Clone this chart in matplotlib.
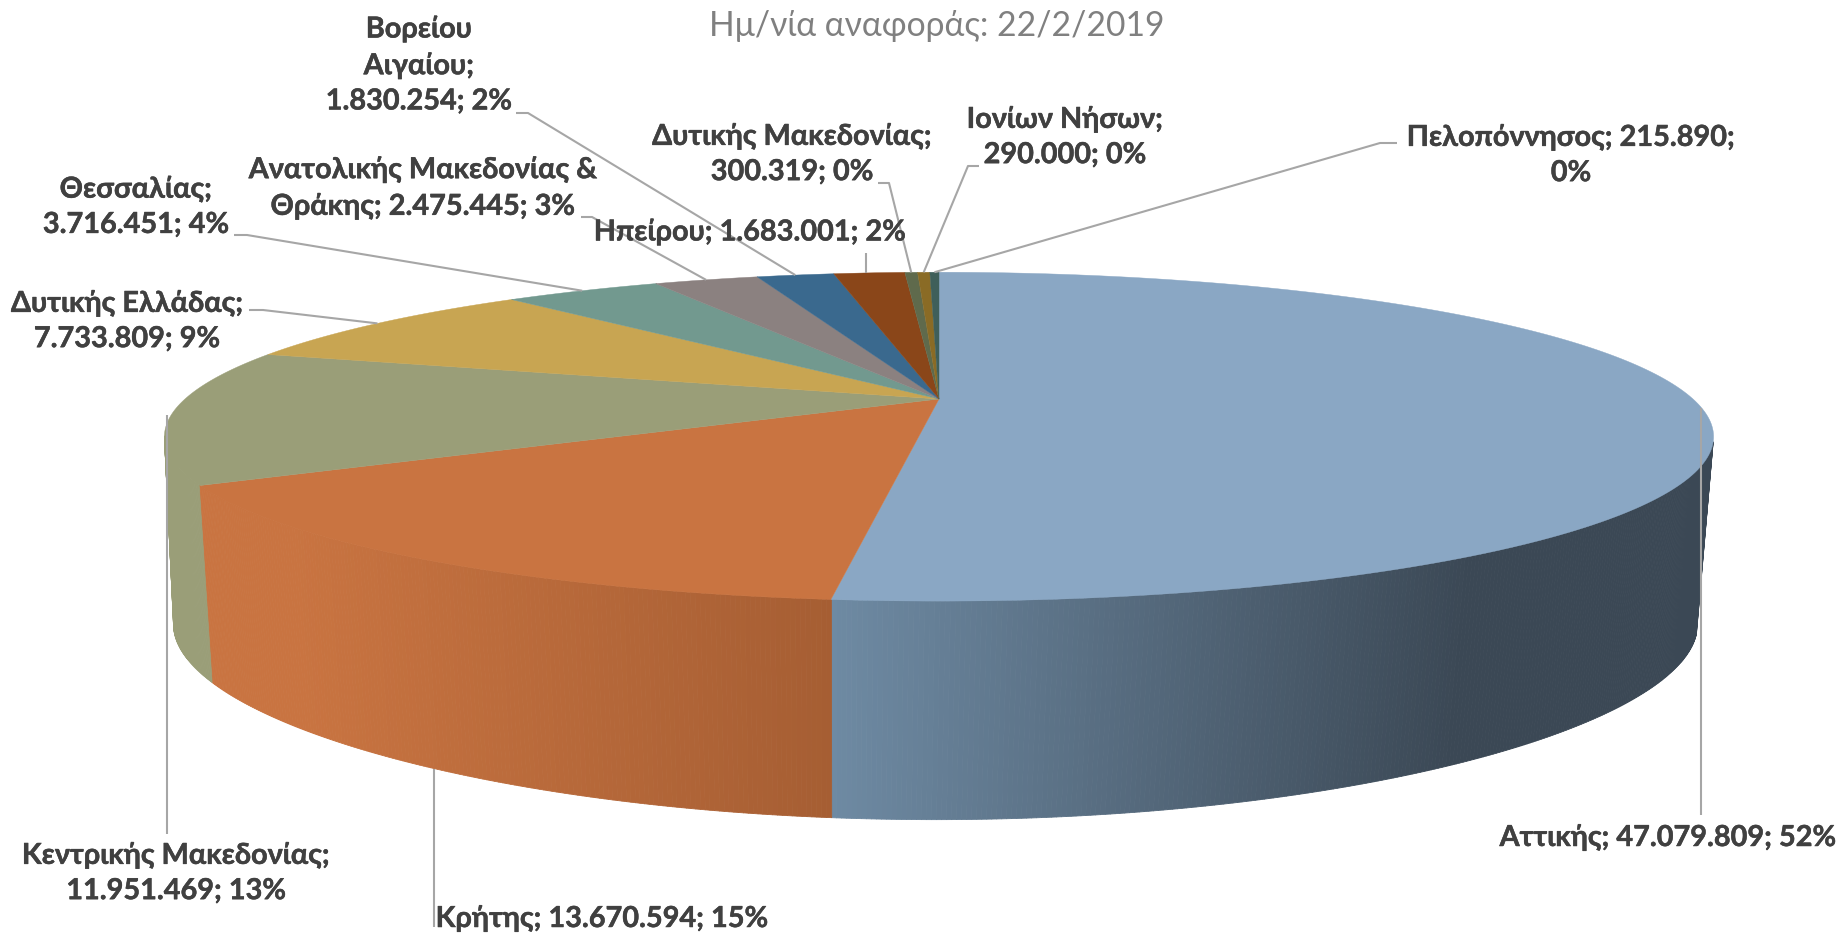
import numpy as np
import matplotlib
matplotlib.use('Agg')
import matplotlib.pyplot as plt
import matplotlib.patheffects as pe
from matplotlib.collections import PolyCollection
from matplotlib.colors import to_rgb

# data
regiones = ['Αττικής', 'Κρήτης', 'Κεντρικής Μακεδονίας', 'Δυτικής Ελλάδας', 'Θεσσαλίας',
            'Ανατολικής Μακεδονίας & Θράκης', 'Βορείου Αιγαίου', 'Ηπείρου',
            'Δυτικής Μακεδονίας', 'Ιονίων Νήσων', 'Πελοπόννησος']
valores = [47079809, 13670594, 11951469, 7733809, 3716451, 2475445, 1830254, 1683001,
           300319, 290000, 215890]
colores = ['#8aa7c4', '#c97441', '#9a9e78', '#c8a552', '#72998f', '#8b8180', '#3a698e',
           '#8a4619', '#5f6a4c', '#8a6b25', '#3f5f5a']

# label line breaks, one string per region with | where the line breaks
cortes = ['{n}; {v}; {p}', '{n}; {v}; {p}', 'Κεντρικής Μακεδονίας;|{v}; {p}', '{n};|{v}; {p}',
          '{n};|{v}; {p}', 'Ανατολικής Μακεδονίας &|Θράκης; {v}; {p}', 'Βορείου|Αιγαίου;|{v}; {p}',
          '{n}; {v}; {p}', '{n};|{v}; {p}', '{n};|{v}; {p}', '{n}; {v};|{p}']

# layout, in pixels of the output
pos_etiqueta = [(1668, 838), (602, 919), (176, 873), (127, 321), (136, 207), (423, 188),
                (419, 65), (750, 232), (792, 154), (1065, 137), (1571, 155)]
codo = [[(1701, 815)], [(434, 927)], [(167, 834)], [(263, 310), (249, 310)], [(247, 235), (234, 235)],
        [(592, 217), (581, 217)], [(528, 113), (516, 113)], [(866, 253)],
        [(889, 183), (878, 183)], [(968, 166), (979, 166)], [(1380, 143), (1397, 143)]]

total = sum(valores)
fracciones = np.array(valores) / total
acum = np.concatenate([[0], np.cumsum(fracciones)]) * 2 * np.pi


def borde_sup(t):
    w = 1 + 0.229 * np.cos(t)
    return 939 + 754 * np.sin(t) / w, 399 - 155.8 * np.cos(t) / w


def borde_inf(t):
    x = 935.5 + 745 * np.sin(t) / (1 + 0.21 * np.cos(t))
    y = 587 - 167.5 * np.cos(t) / (1 + 0.28 * np.cos(t))
    return x, y


def miti(c1, c2, x, x1, x2):
    f = np.clip((x - x1) / (x2 - x1), 0, 1)
    return tuple((1 - f) * np.array(to_rgb(c1)) + f * np.array(to_rgb(c2)))


fig = plt.figure(figsize=(18.41, 9.34), dpi=100)
ax = fig.add_axes([0, 0, 1, 1])
ax.set_xlim(0, 1841)
ax.set_ylim(934, 0)
ax.axis('off')

# side wall, thin strips so the shading can follow x
lado = []
lado_col = []
ts = np.radians(np.linspace(105, 257, 500))
for t1, t2 in zip(ts[:-1], ts[1:]):
    xa, ya = borde_sup(t1)
    xb, yb = borde_sup(t2)
    xc, yc = borde_inf(t2)
    xd, yd = borde_inf(t1)
    lado.append([(xa, ya), (xb, yb), (xc, yc), (xd, yd)])
    tm = (t1 + t2) / 2
    xm = (xa + xb) / 2
    if tm < acum[1]:
        lado_col.append(miti('#6e8aa3', '#3b4855', xm, 831, 1470))
    elif tm < acum[2]:
        lado_col.append(miti('#c97441', '#a65e33', xm, 290, 831))
    else:
        lado_col.append(to_rgb(colores[2]))
ax.add_collection(PolyCollection(lado, facecolors=lado_col, edgecolors=lado_col, linewidths=0.6, zorder=1))

# top face
for i in range(len(valores)):
    t = np.linspace(acum[i], acum[i + 1], 200)
    x, y = borde_sup(t)
    ax.fill(np.r_[939, x], np.r_[399, y], color=colores[i], lw=0.3, zorder=2)

# leader lines
for i in range(len(valores)):
    tm = (acum[i] + acum[i + 1]) / 2
    if i == 1:
        x0, y0 = borde_inf(tm)
    else:
        x0, y0 = borde_sup(tm)
    if i in (0, 1, 2, 7):
        x0 = codo[i][0][0]
    xs = [x0] + [p[0] for p in codo[i]]
    ys = [y0] + [p[1] for p in codo[i]]
    ax.plot(xs, ys, color='#a6a6a6', lw=1.5, zorder=3, solid_capstyle='butt')

# labels
for i in range(len(valores)):
    v = f'{valores[i]:,}'.replace(',', '.')
    p = f'{fracciones[i] * 100:.0f}%'
    txt = cortes[i].format(n=regiones[i], v=v, p=p).replace('|', '\n')
    ax.text(pos_etiqueta[i][0], pos_etiqueta[i][1], txt, ha='center', va='center', ma='center',
            fontsize=20.8, fontweight='bold', color='#404040', linespacing=1.44, zorder=4,
            family=['Lato', 'Open Sans'],
            path_effects=[pe.withStroke(linewidth=0.35, foreground='#404040')])

ax.text(937, 26, 'Ημ/νία αναφοράς: 22/2/2019', ha='center', va='center', fontsize=24.2, color='#808080',
        family=['Lato', 'Open Sans'])

fig.savefig('out.png', dpi=100)
